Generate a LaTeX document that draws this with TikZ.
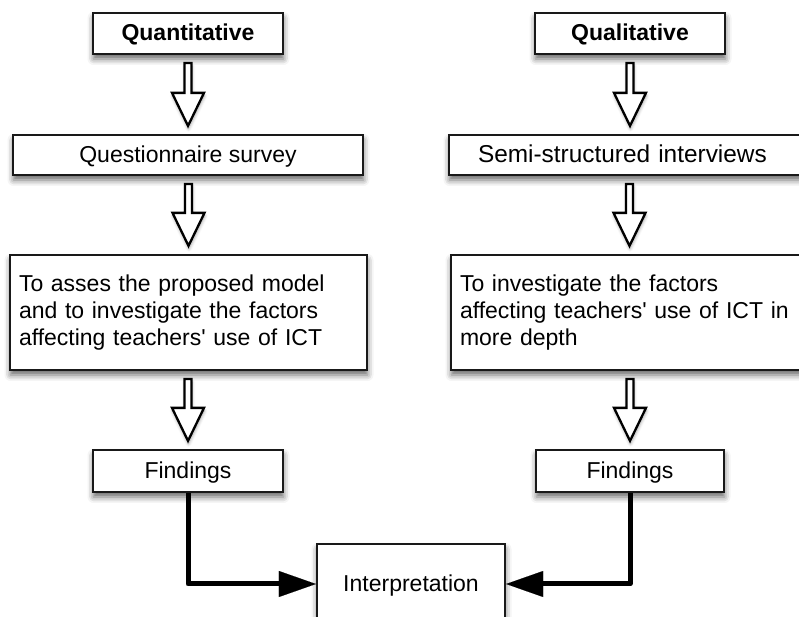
\documentclass[tikz,border=0pt]{standalone}
\usepackage{fontspec}
\setmainfont{Liberation Sans}[Ligatures=TeXOff]
\usetikzlibrary{shadows.blur,arrows.meta,calc}

\tikzset{
  softshadow/.style={blur shadow={shadow xshift=0.5pt, shadow yshift=-5pt,
      shadow blur radius=6pt, shadow opacity=60}},
  frame/.style={draw=black!90, line width=2.2pt, fill=white, inner sep=0pt,
      font=\fontsize{23}{27}\selectfont, softshadow},
  box/.style={frame, text height=17pt, text depth=2pt},
  headbox/.style={box, font=\fontsize{23}{27}\selectfont\bfseries},
  textbox/.style={frame, align=left, inner xsep=9pt, text width=#1},
  hollow/.style={draw=black, line width=2.3pt, fill=white, line join=miter,
      blur shadow={shadow xshift=0.5pt, shadow yshift=-3pt,
      shadow blur radius=3pt, shadow opacity=35}},
  conn/.style={line width=5pt, line join=round,
      -{Triangle[length=37pt,width=26pt,line width=0.1pt,fill=black]}}
}

% hollow downward block arrow between two nodes, centred on the x of #3
\newcommand\hollowdown[3]{%
  \path[hollow] let \p1=($(#1.south)+(0,-8)$), \p2=($(#2.north)+(0,8)$),
      \p3=(#3.center) in
    (\x3-3.5,\y1) -- (\x3+3.5,\y1) -- (\x3+3.5,\y2+33) -- (\x3+16,\y2+33)
    -- (\x3,\y2) -- (\x3-16,\y2+33) -- (\x3-3.5,\y2+33) -- cycle;}

\begin{document}
\begin{tikzpicture}[x=1pt,y=1pt]
  \useasboundingbox (0,0) rectangle (799,617);
  \clip (0,0) rectangle (799,617);

  % quantitative strand
  \node[headbox, minimum width=190pt, minimum height=41pt] (quant) at (188,583.5) {Quantitative};
  \node[box, minimum width=350pt, minimum height=40pt] (quest) at (188,462) {Questionnaire survey};
  \node[textbox=339pt, minimum height=115pt] (lgoal) at (188.5,304.5)
    {To asses the proposed model\\and to investigate the factors\\affecting teachers' use of ICT};
  \node[box, minimum width=190pt, minimum height=42pt] (lfind) at (188,146) {Findings};

  % qualitative strand
  \node[headbox, minimum width=190pt, minimum height=41pt] (qual) at (630,583.5) {Qualitative};
  \node[box, align=left, inner xsep=29pt, text width=296pt, minimum height=40pt,
        font=\fontsize{24.4}{28}\selectfont] (semi) at (626,462) {Semi-structured interviews};
  \node[textbox=339pt, minimum height=115pt] (rgoal) at (629.5,304.5)
    {To investigate the factors\\affecting teachers' use of ICT in\\more depth};
  \node[box, minimum width=188pt, minimum height=42pt] (rfind) at (630,146) {Findings};

  % joint interpretation
  \node[box, minimum width=188pt, minimum height=80pt] (interp) at (411,33) {Interpretation};

  % block arrows
  \hollowdown{quant}{quest}{quant}
  \hollowdown{quest}{lgoal}{lgoal}
  \hollowdown{lgoal}{lfind}{lfind}
  \hollowdown{qual}{semi}{qual}
  \hollowdown{semi}{rgoal}{rgoal}
  \hollowdown{rgoal}{rfind}{rfind}

  % findings into interpretation
  \draw[conn] (lfind.south) |- (interp.west);
  \draw[conn] (rfind.south) |- (interp.east);
\end{tikzpicture}
\end{document}
